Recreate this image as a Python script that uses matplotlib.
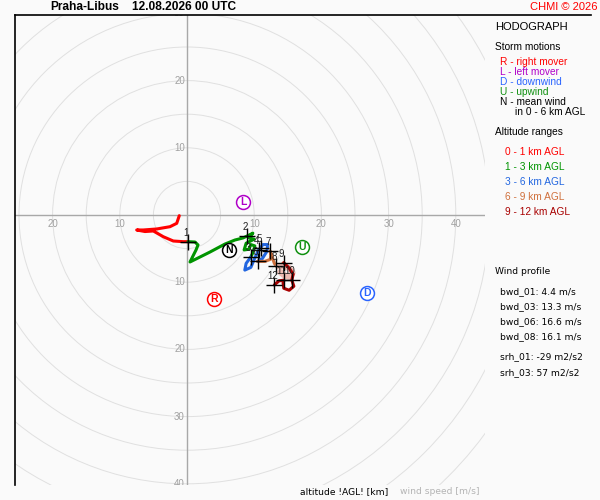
import numpy as np
import matplotlib
matplotlib.use('Agg')
import matplotlib.pyplot as plt
from matplotlib.patches import Circle

plt.rcParams['font.family'] = ['Liberation Sans', 'DejaVu Sans']

# hodograph, wind components u, v [m/s]
red_u = [-1.15, -1.53, -2.53, -4.51, -6.5, -7.49, -6.25, -5.01, -3.53, -2.04, -0.55, 0.15]
red_v = [-0.10, -1.24, -1.74, -2.08, -2.23, -2.23, -2.46, -2.38, -3.23, -3.87, -3.97, -3.97]
green_u = [0.15, 1.19, 1.64, 1.34, 0.89, 0.45, 3.42, 5.65, 7.14, 8.33, 9.0, 9.8, 9.2, 10.0,
           8.8, 8.5, 9.2, 9.5, 10.1, 9.8, 9.5]
green_v = [-3.97, -4.02, -4.46, -5.21, -6.1, -6.99, -5.51, -4.32, -3.72, -3.42, -3.1, -2.7,
           -3.4, -3.6, -4.2, -5.2, -5.1, -4.4, -4.6, -5.6, -6.25]
blue_u = [9.5, 8.8, 8.6, 9.5, 10.0, 10.6, 11.3, 12.0, 11.9, 11.2, 10.5]
blue_v = [-6.25, -7.2, -8.2, -7.8, -6.6, -5.3, -4.4, -4.4, -5.4, -6.5, -6.9]
brown_u = [10.5, 11.6, 12.4, 12.5, 12.35, 12.7, 13.0, 13.3, 13.9, 14.4]
brown_v = [-6.9, -6.9, -6.6, -5.8, -5.36, -6.3, -7.2, -7.6, -7.5, -7.1]
pink_u = [13.6, 14.4, 15.2, 15.7, 15.3, 14.5, 13.9]
pink_v = [-7.6, -7.6, -7.9, -8.6, -9.2, -9.0, -8.5]
dred_u = [14.4, 15.2, 15.8, 15.6, 15.9, 15.2, 14.4, 14.3, 14.4, 13.7, 13.0]
dred_v = [-7.1, -7.9, -8.8, -9.7, -10.6, -11.2, -10.9, -10.1, -9.7, -9.8, -10.4]

# km markers
km_labels = ['1', '2', '3', '4', '5', '6', '7', '8', '9', '10', '11', '12']
km_u = [0.15, 9.0, 9.5, 10.67, 11.0, 10.5, 12.35, 13.3, 14.4, 15.6, 14.4, 13.0]
km_v = [-3.97, -3.1, -6.25, -5.16, -4.9, -6.9, -5.36, -7.6, -7.1, -9.7, -9.7, -10.4]

# storm motions
storm_names = ['L', 'N', 'U', 'R', 'D']
storm_u = [8.33, 6.25, 17.11, 4.02, 26.79]
storm_v = [1.93, -5.21, -4.76, -12.5, -11.61]
storm_colors = ['#b000c8', 'black', '#109010', '#ff0000', '#2a64ff']

ring_vals = np.arange(5, 70, 5)
xlab_vals = [-20, -10, 10, 20, 30, 40]
ylab_vals = [30, 20, 10, -10, -20, -30, -40]

wind_profile = ['bwd_01: 4.4 m/s', 'bwd_03: 13.3 m/s', 'bwd_06: 16.6 m/s', 'bwd_08: 16.1 m/s']
helicity = ['srh_01: -29 m2/s2', 'srh_03: 57 m2/s2']

bg = '#fafafa'
W, H = 600, 500
fig = plt.figure(figsize=(6, 5), dpi=100, facecolor=bg)

# plot area in pixels: x 15..485, y 15..485, origin at (187, 215)
s = 6.72
ax = fig.add_axes([15 / W, 15 / H, 470 / W, 470 / H])
ax.set_facecolor(bg)
ax.set_xlim((15 - 187) / s, (485 - 187) / s)
ax.set_ylim(-(485 - 215) / s, (215 - 15) / s)
for sp in ax.spines.values():
    sp.set_visible(False)
ax.set_xticks([])
ax.set_yticks([])

for r in ring_vals:
    ax.add_patch(Circle((0, 0), r, fill=False, ec='#e0e0e0', lw=0.7))
ax.axhline(0, color='#a8a8a8', lw=1)
ax.axvline(0, color='#a8a8a8', lw=1)

for v in xlab_vals:
    ax.annotate(str(abs(v)), (v, 0), xytext=(0, -3), textcoords='offset points',
                ha='center', va='top', fontsize=7, color='#a0a0a0')
for v in ylab_vals:
    t = ax.annotate(str(abs(v)), (0, v), xytext=(-1.5, 0), textcoords='offset points',
                    ha='right', va='center', fontsize=7, color='#a0a0a0',
                    annotation_clip=False)
    t.set_clip_box(ax.bbox)
    t.set_clip_on(True)

lw = 2.2
ax.plot(red_u, red_v, color='#ff0000', lw=lw, solid_capstyle='round')
ax.plot(green_u, green_v, color='#009400', lw=lw, solid_capstyle='round')
ax.plot(blue_u, blue_v, color='#2266e0', lw=lw, solid_capstyle='round')
ax.plot(brown_u, brown_v, color='#d0703c', lw=lw, solid_capstyle='round')
ax.plot(pink_u, pink_v, color='#eebcb4', lw=4.5, solid_capstyle='round')
ax.plot(dred_u, dred_v, color='#a80000', lw=lw, solid_capstyle='round')

ax.plot(km_u, km_v, '+', color='black', ms=11, mew=1, ls='none')
for lab, u, v in zip(km_labels, km_u, km_v):
    ax.annotate(lab, (u, v), xytext=(-1.5, 6.5), textcoords='offset points',
                ha='center', va='center', fontsize=7, color='#202020')

for name, u, v, c in zip(storm_names, storm_u, storm_v, storm_colors):
    ax.plot(u, v, 'o', ms=10, mfc='white', mec=c, mew=1.1)
    ax.text(u, v - 0.05, name, ha='center', va='center', fontsize=7.5,
            color=c, fontweight='bold')


def ftext(x, y, txt, **kw):
    kw.setdefault('va', 'center')
    kw.setdefault('fontsize', 7.3)
    fig.text(x / W, 1 - y / H, txt, **kw)


# frame lines
fig.add_artist(plt.Line2D([15 / W, 15 / W], [1 - 15 / H, 1 - 485 / H], color='black', lw=1.2))
fig.add_artist(plt.Line2D([15 / W, 591 / W], [1 - 15 / H, 1 - 15 / H], color='black', lw=1.2))

ftext(50, 7, 'Praha-Libus', fontsize=8.6, fontweight='bold')
ftext(132, 7, '12.08.2026 00 UTC', fontsize=8.6, fontweight='bold')
ftext(597, 7, 'CHMI \u00a9 2026', ha='right', fontsize=8, color='#ff0000')

ftext(495, 27, 'HODOGRAPH', fontsize=8)
ftext(495, 47, 'Storm motions')
ftext(500, 62, 'R - right mover', color='#ff0000')
ftext(500, 72, 'L - left mover', color='#b000c8')
ftext(500, 82, 'D - downwind', color='#2a64ff')
ftext(500, 92, 'U - upwind', color='#109010')
ftext(500, 102, 'N - mean wind')
ftext(515, 112, 'in 0 - 6 km AGL')

ftext(495, 132, 'Altitude ranges')
alt_labels = ['0 - 1 km AGL', '1 - 3 km AGL', '3 - 6 km AGL', '6 - 9 km AGL', '9 - 12 km AGL']
alt_colors = ['#ff0000', '#009400', '#2266e0', '#d0703c', '#a80000']
for i, (lab, c) in enumerate(zip(alt_labels, alt_colors)):
    ftext(505, 152 + 15 * i, lab, color=c)

dv = dict(fontsize=6.6, family='DejaVu Sans')
ftext(495, 272, 'Wind profile', **dv)
for i, t in enumerate(wind_profile):
    ftext(500, 292 + 15 * i, t, **dv)
for i, t in enumerate(helicity):
    ftext(500, 357 + 15.5 * i, t, **dv)

ftext(300, 492, 'altitude !AGL! [km]', **dv)
ftext(400, 492, 'wind speed [m/s]', color='#b4b4b4', **dv)

fig.savefig('out.png', dpi=100, facecolor=bg)
